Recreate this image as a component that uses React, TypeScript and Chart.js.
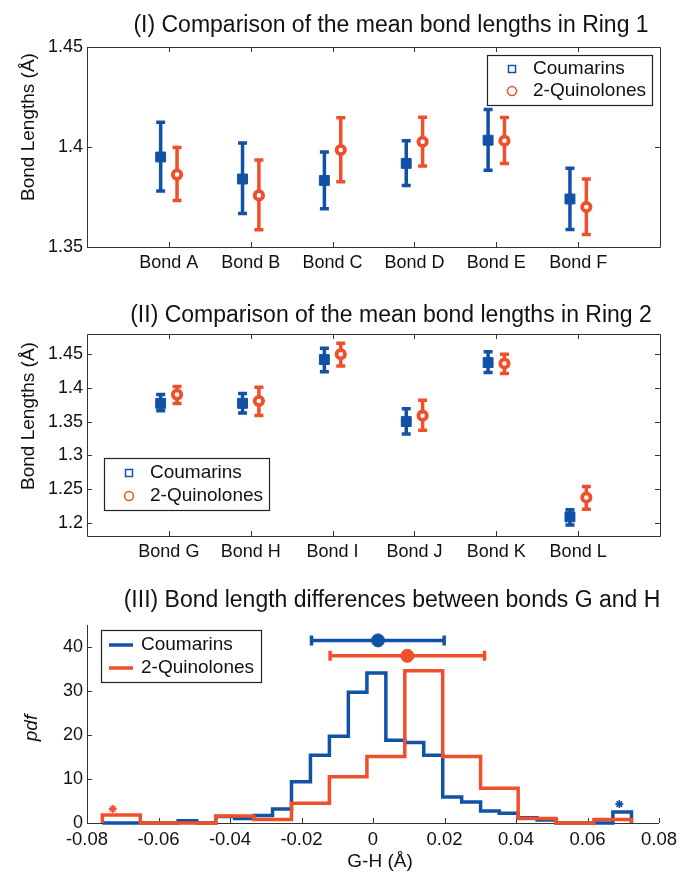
import React, { useEffect, useRef } from 'react';
import { Chart, registerables } from 'chart.js';

Chart.register(...registerables);

const BLUE = '#1252a6';
const RED = '#ef4f2b';
const AXIS = '#333333';
const FONT = "'Liberation Sans', Arial, Helvetica, sans-serif";

// ---------- Panel I ----------
const ring1Title = '(I) Comparison of the mean bond lengths in Ring 1';
const ring1Bonds = ['Bond A', 'Bond B', 'Bond C', 'Bond D', 'Bond E', 'Bond F'];
const ring1CouMean = [1.395, 1.384, 1.3833, 1.3918, 1.4034, 1.374];
const ring1CouLow = [1.378, 1.3668, 1.3691, 1.3808, 1.3884, 1.3587];
const ring1CouHigh = [1.4124, 1.402, 1.3975, 1.4031, 1.4187, 1.3894];
const ring1QuiMean = [1.3862, 1.3758, 1.3985, 1.4026, 1.4031, 1.37];
const ring1QuiLow = [1.3733, 1.3586, 1.3826, 1.3905, 1.3918, 1.3562];
const ring1QuiHigh = [1.3998, 1.3935, 1.4146, 1.4149, 1.4147, 1.384];
const ring1Ticks = [1.35, 1.4, 1.45];

// ---------- Panel II ----------
const ring2Title = '(II) Comparison of the mean bond lengths in Ring 2';
const ring2Bonds = ['Bond G', 'Bond H', 'Bond I', 'Bond J', 'Bond K', 'Bond L'];
const ring2CouMean = [1.377, 1.377, 1.442, 1.35, 1.4376, 1.2084];
const ring2CouLow = [1.366, 1.3627, 1.424, 1.3314, 1.4227, 1.1965];
const ring2CouHigh = [1.39, 1.3915, 1.459, 1.369, 1.4535, 1.2188];
const ring2QuiMean = [1.39, 1.3805, 1.45, 1.3587, 1.4361, 1.2372];
const ring2QuiLow = [1.3766, 1.359, 1.4326, 1.3369, 1.4212, 1.2198];
const ring2QuiHigh = [1.402, 1.401, 1.4664, 1.3815, 1.45, 1.2536];
const ring2Ticks = [1.2, 1.25, 1.3, 1.35, 1.4, 1.45];

// ---------- Panel III ----------
const diffTitle = '(III) Bond length differences between bonds G and H';
const couEdges = [
  -0.0757, -0.0704, -0.0651, -0.0598, -0.0545, -0.0493, -0.044, -0.0387, -0.0334, -0.0281,
  -0.0228, -0.0175, -0.0122, -0.0069, -0.0017, 0.0036, 0.0089, 0.0142, 0.0195, 0.0248,
  0.0301, 0.0353, 0.0406, 0.0459, 0.0512, 0.0565, 0.0618, 0.0671, 0.0723,
];
const couPdf = [
  0, 0, 0, 0, 0.5, 0, 1.5, 1.0, 1.7, 3.2, 9.4, 15.4, 19.7, 29.7, 34.1, 18.8, 18.3, 15.4, 5.9,
  4.8, 2.7, 2.2, 1.2, 0.7, 0, 0, 0, 2.5,
];
const quiEdges = [
  -0.0757, -0.0651, -0.0545, -0.044, -0.0334, -0.0228, -0.0122, -0.0017, 0.0089, 0.0195,
  0.0301, 0.0406, 0.0512, 0.0618, 0.0723,
];
const quiPdf = [1.8, 0, 0, 1.6, 0.8, 4.5, 10.5, 15.1, 34.6, 15.1, 7.9, 1.0, 0, 0.8];
const couDiffMean = [0.0014];
const couDiffLevel = [41.5];
const couDiffLow = [-0.0172];
const couDiffHigh = [0.0199];
const quiDiffMean = [0.0096];
const quiDiffLevel = [38.0];
const quiDiffLow = [-0.012];
const quiDiffHigh = [0.0312];
const couOutlier = [{ x: 0.0689, y: 4.3 }];
const quiOutlier = [{ x: -0.0728, y: 3.2 }];
const diffXTicks = [-0.08, -0.06, -0.04, -0.02, 0, 0.02, 0.04, 0.06, 0.08];
const diffYTicks = [0, 10, 20, 30, 40];

const SERIES = ['Coumarins', '2-Quinolones'];
const OFF = 0.1;

const f = (size: number, style = '') => `${style}${size}px ${FONT}`;

function stepPoints(edges: number[], vals: number[]) {
  const pts = [{ x: edges[0], y: 0 }];
  vals.forEach((v, i) => pts.push({ x: edges[i], y: v }));
  pts.push({ x: edges[edges.length - 1], y: 0 });
  return pts;
}

type Bar = { xs: number[]; ys: number[]; lo: number[]; hi: number[]; color: string; horizontal?: boolean };
type LegendItem = { label: string; color: string; kind: 'square' | 'circle' | 'line' };
type Deco = {
  box: boolean;
  bars: Bar[];
  title: { text: string; x: number; y: number };
  ylabel: { text: string; x: number; y: number; italic?: boolean };
  xlabel?: { text: string; x: number; y: number };
  legend: { x: number; y: number; w: number; h: number; rows: number[]; mx: number; tx: number; items: LegendItem[] };
};

function decoPlugin(d: Deco) {
  return {
    id: 'deco',
    beforeDatasetsDraw(chart: any) {
      const ctx = chart.ctx as CanvasRenderingContext2D;
      const { left, right, top, bottom } = chart.chartArea;
      const xs = chart.scales.x;
      const ys = chart.scales.y;
      ctx.save();
      ctx.strokeStyle = AXIS;
      ctx.lineWidth = 1;
      ctx.beginPath();
      if (d.box) {
        ctx.rect(left + 0.5, top + 0.5, right - left, bottom - top);
      } else {
        ctx.moveTo(left + 0.5, top);
        ctx.lineTo(left + 0.5, bottom + 0.5);
        ctx.lineTo(right, bottom + 0.5);
      }
      ctx.stroke();
      ctx.beginPath();
      const T = 5;
      xs.ticks.forEach((t: any) => {
        const px = Math.round(xs.getPixelForValue(t.value)) + 0.5;
        ctx.moveTo(px, bottom);
        ctx.lineTo(px, bottom - T);
        if (d.box) {
          ctx.moveTo(px, top);
          ctx.lineTo(px, top + T);
        }
      });
      ys.ticks.forEach((t: any) => {
        const py = Math.round(ys.getPixelForValue(t.value)) + 0.5;
        ctx.moveTo(left, py);
        ctx.lineTo(left + T, py);
        if (d.box) {
          ctx.moveTo(right, py);
          ctx.lineTo(right - T, py);
        }
      });
      ctx.stroke();
      // error bars
      d.bars.forEach((b) => {
        ctx.strokeStyle = b.color;
        ctx.lineWidth = 3.5;
        ctx.lineCap = 'butt';
        b.xs.forEach((xv, i) => {
          ctx.beginPath();
          if (!b.horizontal) {
            const px = xs.getPixelForValue(xv);
            const p1 = ys.getPixelForValue(b.lo[i]);
            const p2 = ys.getPixelForValue(b.hi[i]);
            ctx.moveTo(px, p1);
            ctx.lineTo(px, p2);
            ctx.moveTo(px - 4.5, p1);
            ctx.lineTo(px + 4.5, p1);
            ctx.moveTo(px - 4.5, p2);
            ctx.lineTo(px + 4.5, p2);
          } else {
            const py = ys.getPixelForValue(b.ys[i]);
            const p1 = xs.getPixelForValue(b.lo[i]);
            const p2 = xs.getPixelForValue(b.hi[i]);
            ctx.moveTo(p1, py);
            ctx.lineTo(p2, py);
            ctx.moveTo(p1, py - 5);
            ctx.lineTo(p1, py + 5);
            ctx.moveTo(p2, py - 5);
            ctx.lineTo(p2, py + 5);
          }
          ctx.stroke();
        });
      });
      ctx.restore();
    },
    afterDraw(chart: any) {
      const ctx = chart.ctx as CanvasRenderingContext2D;
      ctx.save();
      ctx.fillStyle = '#111';
      ctx.textBaseline = 'middle';
      ctx.textAlign = 'center';
      ctx.font = f(23);
      ctx.fillText(d.title.text, d.title.x, d.title.y);
      ctx.save();
      ctx.translate(d.ylabel.x, d.ylabel.y);
      ctx.rotate(-Math.PI / 2);
      ctx.font = f(19, d.ylabel.italic ? 'italic ' : '');
      ctx.fillText(d.ylabel.text, 0, 0);
      ctx.restore();
      if (d.xlabel) {
        ctx.font = f(19);
        ctx.fillText(d.xlabel.text, d.xlabel.x, d.xlabel.y);
      }
      // legend
      const L = d.legend;
      ctx.fillStyle = '#fff';
      ctx.fillRect(L.x, L.y, L.w, L.h);
      ctx.strokeStyle = '#222';
      ctx.lineWidth = 1.2;
      ctx.strokeRect(L.x + 0.5, L.y + 0.5, L.w, L.h);
      L.items.forEach((it, i) => {
        const y = L.rows[i];
        ctx.strokeStyle = it.color;
        if (it.kind === 'square') {
          ctx.lineWidth = 1.5;
          ctx.strokeRect(L.mx - 3.5, y - 3.5, 7, 7);
        } else if (it.kind === 'circle') {
          ctx.lineWidth = 1.5;
          ctx.beginPath();
          ctx.arc(L.mx, y, 4.5, 0, Math.PI * 2);
          ctx.stroke();
        } else {
          ctx.lineWidth = 3.5;
          ctx.beginPath();
          ctx.moveTo(L.mx - 12, y);
          ctx.lineTo(L.mx + 12, y);
          ctx.stroke();
        }
        ctx.fillStyle = '#111';
        ctx.textAlign = 'left';
        ctx.font = f(19);
        ctx.fillText(it.label, L.tx, y);
      });
      ctx.restore();
    },
  };
}

function ringChart(
  canvas: HTMLCanvasElement,
  bonds: string[],
  couMean: number[],
  couLow: number[],
  couHigh: number[],
  quiMean: number[],
  quiLow: number[],
  quiHigh: number[],
  yTicks: number[],
  yMin: number,
  yMax: number,
  padTop: number,
  xHeight: number,
  deco: Omit<Deco, 'bars' | 'box'>
) {
  const couX = bonds.map((_, i) => i + 1 - OFF);
  const quiX = bonds.map((_, i) => i + 1 + OFF);
  return new Chart(canvas, {
    type: 'scatter',
    data: {
      datasets: [
        {
          label: SERIES[0],
          data: couMean.map((y, i) => ({ x: couX[i], y })),
          pointStyle: 'rect',
          pointRadius: 7,
          pointBackgroundColor: BLUE,
          pointBorderColor: BLUE,
          pointBorderWidth: 1,
        },
        {
          label: SERIES[1],
          data: quiMean.map((y, i) => ({ x: quiX[i], y })),
          pointStyle: 'circle',
          pointRadius: 4.2,
          pointBackgroundColor: '#fff',
          pointBorderColor: RED,
          pointBorderWidth: 3.8,
        },
      ],
    },
    options: {
      animation: false,
      responsive: false,
      events: [],
      layout: { padding: { left: 0, right: 20, top: padTop, bottom: 0 } },
      plugins: { legend: { display: false }, title: { display: false }, tooltip: { enabled: false } },
      scales: {
        x: {
          type: 'linear',
          min: 0,
          max: bonds.length + 1,
          afterBuildTicks: (s: any) => {
            s.ticks = bonds.map((_, i) => ({ value: i + 1 }));
          },
          afterFit: (s: any) => {
            s.height = xHeight;
            s.paddingLeft = 0;
            s.paddingRight = 0;
          },
          grid: { display: false, drawTicks: false },
          border: { display: false },
          ticks: {
            autoSkip: false,
            maxRotation: 0,
            padding: 5,
            color: '#111',
            font: { family: FONT, size: 18 },
            callback: (v: any) => bonds[Math.round(v) - 1] ?? '',
          },
        },
        y: {
          type: 'linear',
          min: yMin,
          max: yMax,
          afterBuildTicks: (s: any) => {
            s.ticks = yTicks.map((v) => ({ value: v }));
          },
          afterFit: (s: any) => {
            s.width = 87;
            s.paddingTop = 0;
            s.paddingBottom = 0;
          },
          grid: { display: false, drawTicks: false },
          border: { display: false },
          ticks: {
            padding: 4,
            color: '#111',
            font: { family: FONT, size: 18 },
            callback: (v: any) => String(v),
          },
        },
      },
    },
    plugins: [
      decoPlugin({
        ...deco,
        box: true,
        bars: [
          { xs: couX, ys: couMean, lo: couLow, hi: couHigh, color: BLUE },
          { xs: quiX, ys: quiMean, lo: quiLow, hi: quiHigh, color: RED },
        ],
      }),
    ],
  } as any);
}

function diffChart(canvas: HTMLCanvasElement) {
  return new Chart(canvas, {
    type: 'scatter',
    data: {
      datasets: [
        {
          label: SERIES[0] + ' mean',
          data: couDiffMean.map((x, i) => ({ x, y: couDiffLevel[i] })),
          pointRadius: 6.5,
          pointBackgroundColor: BLUE,
          pointBorderColor: BLUE,
          order: -2,
        },
        {
          label: SERIES[1] + ' mean',
          data: quiDiffMean.map((x, i) => ({ x, y: quiDiffLevel[i] })),
          pointRadius: 6.5,
          pointBackgroundColor: RED,
          pointBorderColor: RED,
          order: -2,
        },
        {
          label: SERIES[1],
          data: stepPoints(quiEdges, quiPdf),
          showLine: true,
          stepped: 'before',
          borderColor: RED,
          borderWidth: 3.5,
          pointRadius: 0,
          clip: false,
          order: 0,
        },
        {
          label: SERIES[0],
          data: stepPoints(couEdges, couPdf),
          showLine: true,
          stepped: 'before',
          borderColor: BLUE,
          borderWidth: 3.5,
          pointRadius: 0,
          clip: false,
          order: 1,
        },
        {
          label: 'outlier c',
          data: couOutlier,
          pointStyle: 'star',
          pointRadius: 4,
          pointBorderWidth: 1.6,
          pointBorderColor: BLUE,
          order: -1,
        },
        {
          label: 'outlier q',
          data: quiOutlier,
          pointStyle: 'star',
          pointRadius: 4,
          pointBorderWidth: 1.6,
          pointBorderColor: RED,
          order: -1,
        },
      ],
    },
    options: {
      animation: false,
      responsive: false,
      events: [],
      layout: { padding: { left: 0, right: 21, top: 50, bottom: 0 } },
      plugins: { legend: { display: false }, title: { display: false }, tooltip: { enabled: false } },
      scales: {
        x: {
          type: 'linear',
          min: -0.08,
          max: 0.08,
          afterBuildTicks: (s: any) => {
            s.ticks = diffXTicks.map((v) => ({ value: v }));
          },
          afterFit: (s: any) => {
            s.height = 50;
            s.paddingLeft = 0;
            s.paddingRight = 0;
          },
          grid: { display: false, drawTicks: false },
          border: { display: false },
          ticks: {
            autoSkip: false,
            maxRotation: 0,
            padding: 6,
            color: '#111',
            font: { family: FONT, size: 18.5 },
            callback: (v: any) => String(v),
          },
        },
        y: {
          type: 'linear',
          min: 0,
          max: 45,
          afterBuildTicks: (s: any) => {
            s.ticks = diffYTicks.map((v) => ({ value: v }));
          },
          afterFit: (s: any) => {
            s.width = 87;
            s.paddingTop = 0;
            s.paddingBottom = 0;
          },
          grid: { display: false, drawTicks: false },
          border: { display: false },
          ticks: {
            padding: 4,
            color: '#111',
            font: { family: FONT, size: 18 },
            callback: (v: any) => String(v),
          },
        },
      },
    },
    plugins: [
      decoPlugin({
        box: false,
        bars: [
          { xs: couDiffMean, ys: couDiffLevel, lo: couDiffLow, hi: couDiffHigh, color: BLUE, horizontal: true },
          { xs: quiDiffMean, ys: quiDiffLevel, lo: quiDiffLow, hi: quiDiffHigh, color: RED, horizontal: true },
        ],
        title: { text: diffTitle, x: 392, y: 26 },
        ylabel: { text: 'pdf', x: 32, y: 153, italic: true },
        xlabel: { text: 'G-H (Å)', x: 380, y: 287 },
        legend: {
          x: 101,
          y: 55,
          w: 160,
          h: 52,
          rows: [70, 93],
          mx: 121,
          tx: 141,
          items: [
            { label: SERIES[0], color: BLUE, kind: 'line' },
            { label: SERIES[1], color: RED, kind: 'line' },
          ],
        },
      }),
    ],
  } as any);
}

export default function App() {
  const c1 = useRef<HTMLCanvasElement>(null);
  const c2 = useRef<HTMLCanvasElement>(null);
  const c3 = useRef<HTMLCanvasElement>(null);

  useEffect(() => {
    document.body.style.margin = '0';
    const legendItems: LegendItem[] = [
      { label: SERIES[0], color: BLUE, kind: 'square' },
      { label: SERIES[1], color: RED, kind: 'circle' },
    ];
    const ch1 = ringChart(
      c1.current!,
      ring1Bonds,
      ring1CouMean,
      ring1CouLow,
      ring1CouHigh,
      ring1QuiMean,
      ring1QuiLow,
      ring1QuiHigh,
      ring1Ticks,
      1.35,
      1.45,
      47,
      43,
      {
        title: { text: ring1Title, x: 391, y: 26 },
        ylabel: { text: 'Bond Lengths (Å)', x: 29, y: 127 },
        legend: { x: 487, y: 55, w: 165, h: 50, rows: [69, 91], mx: 512, tx: 533, items: legendItems },
      }
    );
    const ch2 = ringChart(
      c2.current!,
      ring2Bonds,
      ring2CouMean,
      ring2CouLow,
      ring2CouHigh,
      ring2QuiMean,
      ring2QuiLow,
      ring2QuiHigh,
      ring2Ticks,
      1.18,
      1.48,
      44,
      39,
      {
        title: { text: ring2Title, x: 391, y: 26 },
        ylabel: { text: 'Bond Lengths (Å)', x: 29, y: 126 },
        legend: { x: 104, y: 168, w: 165, h: 52, rows: [183, 206], mx: 129, tx: 150, items: legendItems },
      }
    );
    const ch3 = diffChart(c3.current!);
    return () => {
      ch1.destroy();
      ch2.destroy();
      ch3.destroy();
    };
  }, []);

  const cs: React.CSSProperties = { position: 'absolute', left: 0, display: 'block' };
  return (
    <div style={{ position: 'relative', width: 680, height: 873, background: '#fff' }}>
      <canvas ref={c1} width={680} height={290} style={{ ...cs, top: 0 }} />
      <canvas ref={c2} width={680} height={285} style={{ ...cs, top: 290 }} />
      <canvas ref={c3} width={680} height={298} style={{ ...cs, top: 575 }} />
    </div>
  );
}
